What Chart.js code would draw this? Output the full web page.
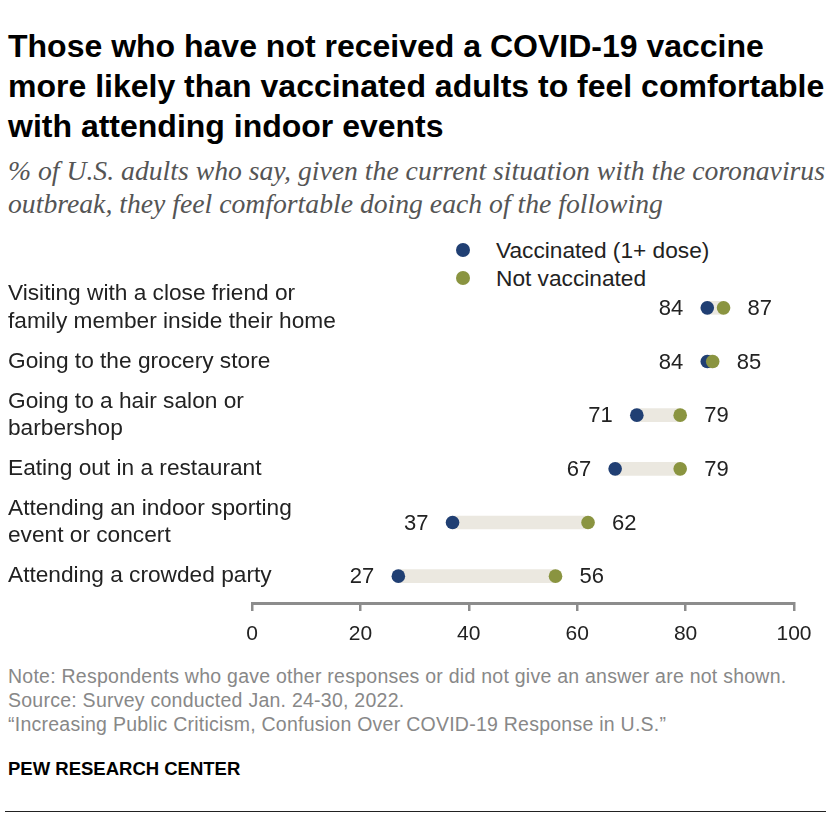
<!DOCTYPE html>
<html>
<head>
<meta charset="utf-8">
<script src="https://cdn.jsdelivr.net/npm/chart.js@4.4.1/dist/chart.umd.min.js"></script>
<style>
  html, body { margin: 0; padding: 0; background: #fff; }
  body { width: 840px; height: 820px; position: relative; overflow: hidden; font-family: 'Liberation Sans', Arial, sans-serif; }
  .title { position: absolute; left: 8px; top: 26px; font-weight: bold; font-size: 32px; line-height: 40px; color: #000; white-space: nowrap; }
  .subtitle { position: absolute; left: 8px; top: 154px; font-family: 'Liberation Serif', serif; font-style: italic; font-size: 27.7px; line-height: 33px; color: #555; white-space: nowrap; }
  .legend { position: absolute; left: 456px; top: 236px; font-size: 22.7px; color: #222; }
  .legend div { height: 28px; line-height: 28px; position: relative; padding-left: 40px; }
  .legend span { position: absolute; left: 0; top: 7px; width: 14px; height: 14px; border-radius: 50%; }
  .notes { position: absolute; left: 8px; top: 664px; font-size: 19.5px; letter-spacing: 0.25px; line-height: 24px; color: #888; white-space: nowrap; }
  .brand { position: absolute; left: 8px; top: 757px; font-size: 18.5px; line-height: 24px; font-weight: bold; color: #000; }
  .rule { position: absolute; left: 5px; top: 811px; width: 821px; height: 0; border-top: 1.5px solid #222; }
  #chart { position: absolute; left: 0; top: 270px; }
</style>
</head>
<body>
<div class="title">Those who have not received a COVID-19 vaccine<br>more likely than vaccinated adults to feel comfortable<br>with attending indoor events</div>
<div class="subtitle">% of U.S. adults who say, given the current situation with the coronavirus<br>outbreak, they feel comfortable doing each of the following</div>
<div class="legend">
  <div><span style="background:#203F73"></span>Vaccinated (1+ dose)</div>
  <div><span style="background:#8A9440"></span>Not vaccinated</div>
</div>
<canvas id="chart" width="840" height="390"></canvas>
<div class="notes">Note: Respondents who gave other responses or did not give an answer are not shown.<br>Source: Survey conducted Jan. 24-30, 2022.<br>“Increasing Public Criticism, Confusion Over COVID-19 Response in U.S.”</div>
<div class="brand">PEW RESEARCH CENTER</div>
<div class="rule"></div>

<script>
// ── DATA ──
const categories = [
  ['Visiting with a close friend or', 'family member inside their home'],
  'Going to the grocery store',
  ['Going to a hair salon or', 'barbershop'],
  'Eating out in a restaurant',
  ['Attending an indoor sporting', 'event or concert'],
  'Attending a crowded party'
];
const vaccinated    = [84, 84, 71, 67, 37, 27];
const notVaccinated = [87, 85, 79, 79, 62, 56];
const xTicks = [0, 20, 40, 60, 80, 100];

const COLORS = {
  vax:   '#203F73',
  noVax: '#8A9440',
  range: '#EBE8E0',
  axis:  '#8C8C8C',
  text:  '#222222'
};
const FONT = "'Liberation Sans', Arial, sans-serif";
const LABEL_LEFT = 8;     // category labels start here
const PLOT_LEFT = 252;    // x = 0 on the axis

// value labels: lower value left of its dot, higher value right of its dot
const valueLabels = {
  id: 'valueLabels',
  afterDatasetsDraw(chart) {
    const { ctx, scales: { x, y } } = chart;
    ctx.save();
    ctx.font = `22px ${FONT}`;
    ctx.fillStyle = COLORS.text;
    ctx.textBaseline = 'middle';
    vaccinated.forEach((v, i) => {
      const n = notVaccinated[i];
      const yy = y.getPixelForValue(i) + 1;
      const lo = Math.min(v, n), hi = Math.max(v, n);
      ctx.textAlign = 'right';
      ctx.fillText(String(lo), x.getPixelForValue(lo) - 24, yy);
      ctx.textAlign = 'left';
      ctx.fillText(String(hi), x.getPixelForValue(hi) + 24, yy);
    });
    ctx.restore();
  }
};

new Chart(document.getElementById('chart'), {
  type: 'bar',
  data: {
    labels: categories,
    datasets: [
      { type: 'line', label: 'Not vaccinated', data: notVaccinated, indexAxis: 'y', showLine: false,
        pointRadius: 6.8, pointHoverRadius: 6.8, pointBorderWidth: 0, pointBackgroundColor: COLORS.noVax, borderColor: COLORS.noVax, order: 1 },
      { type: 'line', label: 'Vaccinated (1+ dose)', data: vaccinated, indexAxis: 'y', showLine: false,
        pointRadius: 6.8, pointHoverRadius: 6.8, pointBorderWidth: 0, pointBackgroundColor: COLORS.vax, borderColor: COLORS.vax, order: 2 },
      { label: 'gap', data: vaccinated.map((v, i) => [v, notVaccinated[i]]),
        backgroundColor: COLORS.range, barThickness: 13, borderWidth: 0, order: 3 }
    ]
  },
  options: {
    indexAxis: 'y',
    responsive: false,
    animation: false,
    layout: { padding: { left: LABEL_LEFT, top: 11, right: 46, bottom: 0 } },
    plugins: { legend: { display: false }, tooltip: { enabled: false } },
    scales: {
      x: {
        min: 0, max: 100,
        afterBuildTicks: s => { s.ticks = xTicks.map(v => ({ value: v })); },
        afterFit: s => { s.height = 57; },
        border: { display: true, color: COLORS.axis, width: 3 },
        grid: { drawOnChartArea: false, drawTicks: true, tickLength: 8, color: COLORS.axis, lineWidth: 2.5 },
        ticks: { color: COLORS.text, padding: 11, font: { family: FONT, size: 21 }, maxRotation: 0 }
      },
      y: {
        afterFit: s => { s.width = PLOT_LEFT - LABEL_LEFT; s.paddingTop = 0; s.paddingBottom = 0; },
        border: { display: false },
        grid: { display: false },
        // mirrored so the labels are not clipped to the axis box; the negative
        // padding pulls them back to the left margin
        ticks: { color: COLORS.text, mirror: true, crossAlign: 'near', padding: LABEL_LEFT - PLOT_LEFT, autoSkip: false,
                 font: { family: FONT, size: 22.7, lineHeight: 1.2 } }
      }
    }
  },
  plugins: [valueLabels]
});
</script>
</body>
</html>
